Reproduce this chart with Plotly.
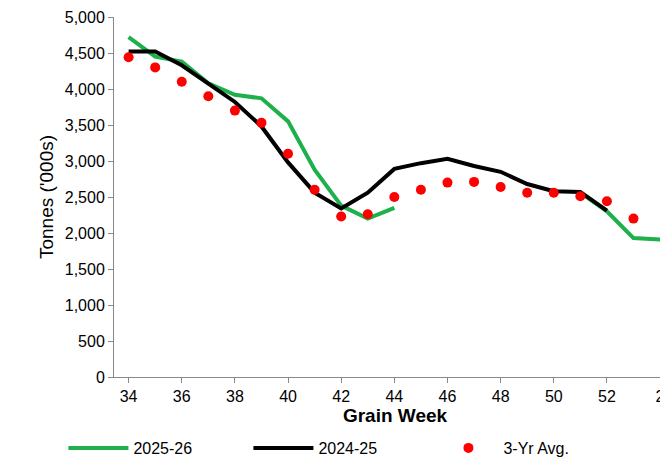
import plotly.graph_objects as go

weeks = [34, 35, 36, 37, 38, 39, 40, 41, 42, 43, 44, 45, 46, 47, 48, 49, 50, 51, 52, 53, 1]
tick_labels = ["34", "36", "38", "40", "42", "44", "46", "48", "50", "52", "2"]

s2025 = [4720, 4450, 4380, 4080, 3920, 3870, 3550, 2880, 2380, 2200, 2350,
         None, None, None, None, None, None, 2560, 2300, 1930, 1910]
s2024 = [4520, 4520, 4330, 4080, 3820, 3480, 2980, 2560, 2340, 2560, 2890,
         2970, 3030, 2930, 2850, 2680, 2580, 2570, 2310, None, None]
avg3 = [4440, 4300, 4100, 3900, 3700, 3530, 3100, 2600, 2230, 2260, 2500,
        2600, 2700, 2710, 2640, 2560, 2560, 2510, 2440, 2200, None]

x = list(range(len(weeks)))

fig = go.Figure()
fig.add_trace(go.Scatter(x=x, y=s2025, name="2025-26", mode="lines",
                         line=dict(color="#1db04b", width=4), connectgaps=False))
fig.add_trace(go.Scatter(x=x, y=s2024, name="2024-25", mode="lines",
                         line=dict(color="black", width=4)))
fig.add_trace(go.Scatter(x=x, y=avg3, name="3-Yr Avg.", mode="markers",
                         marker=dict(color="#ff0000", size=10)))

fig.update_layout(
    width=668, height=457,
    margin=dict(l=106, r=0, t=9, b=82),
    plot_bgcolor="white", paper_bgcolor="white",
    font=dict(family="Liberation Sans, Arial", size=16, color="black"),
    showlegend=True,
    legend=dict(orientation="h", x=-0.09, xanchor="left", y=-0.15, yanchor="top",
                font=dict(size=16), traceorder="normal", entrywidth=110,
                itemwidth=60, tracegroupgap=0),
)
fig.update_xaxes(range=[-0.55, 20.6], tickvals=list(range(0, 21, 2)), ticktext=tick_labels,
                 showgrid=False, showline=True, linecolor="#888", ticks="outside",
                 tickcolor="#888", ticklen=5, automargin=False,
                 title=dict(text="<b>Grain Week</b>", standoff=2))
fig.update_yaxes(range=[0, 5000], dtick=500, tickformat=",", showgrid=False,
                 showline=True, linecolor="#888", ticks="outside", tickcolor="#888",
                 ticklen=5, automargin=False, title=dict(text="Tonnes ('000s)", standoff=6))

fig.write_html("out.html")
